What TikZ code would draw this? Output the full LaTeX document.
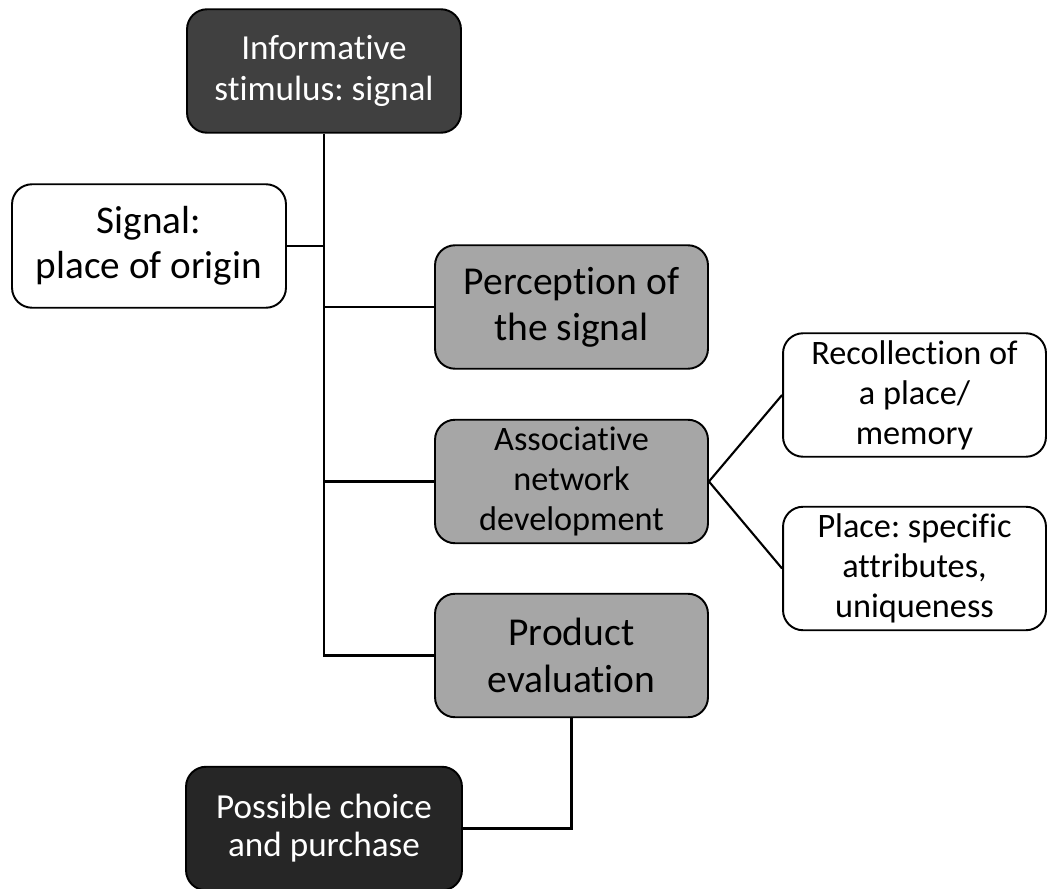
\documentclass[tikz,border=0pt]{standalone}
\usepackage{fontspec}
\setmainfont{Carlito}[Ligatures=NoCommon]
\usetikzlibrary{positioning}
\frenchspacing

\definecolor{topgrey}{HTML}{404040}
\definecolor{endgrey}{HTML}{262626}
\definecolor{midgrey}{HTML}{A6A6A6}

\tikzset{
  box/.style={draw=black, line width=1.1pt, rounded corners=0.4cm, align=center, inner sep=0pt,
    minimum width=5.48cm, minimum height=2.47cm},
  darkbox/.style={box, fill=topgrey, text=white},
  greybox/.style={box, fill=midgrey, minimum width=5.46cm},
  whitebox/.style={box, fill=white},
  sidebox/.style={whitebox, minimum width=5.26cm, font=\fontsize{19.5}{22.7}\selectfont},
  link/.style={line width=1.2pt}
}

\begin{document}
\begin{tikzpicture}[x=0.02cm, y=-0.02cm]

    \useasboundingbox (0,0) rectangle (1048,889);

    \node[darkbox, font=\fontsize{20}{23}\selectfont] (stimulus) at (324,71) {Informative\\stimulus: signal};
    \node[whitebox, font=\fontsize{22.3}{25.5}\selectfont] (origin) at (149,246) {Signal:\\place of origin};

    \node[greybox, font=\fontsize{22.5}{26}\selectfont] (perception) at (571.5,307) {Perception of\\the signal};
    \node[greybox, font=\fontsize{19.5}{22.7}\selectfont] (assoc) at (571.5,481.5) {Associative\\network\\development};
    \node[greybox, font=\fontsize{22.5}{26.5}\selectfont] (product) at (571.5,655.5) {Product\\evaluation};

    \node[sidebox] (recollect) at (914.5,395) {Recollection of\\a place/\\memory};
    \node[sidebox] (place) at (914.5,568.5) {Place: specific\\attributes,\\uniqueness};

    \node[darkbox, fill=endgrey, minimum width=5.52cm, font=\fontsize{20}{21.5}\selectfont] (choice) at (324,828.5) {Possible choice\\and purchase};

    \draw[link] (stimulus.south) -- (stimulus.south |- product.west) -- (product.west);
    \draw[link] (origin.east) -- (origin.east -| stimulus.south);
    \draw[link] (stimulus.south |- perception.west) -- (perception.west);
    \draw[link] (stimulus.south |- assoc.west) -- (assoc.west);

    \draw[link] (recollect.west) -- (assoc.east) -- (place.west);

    \draw[link] (product.south) -- (product.south |- choice.east) -- (choice.east);

\end{tikzpicture}
\end{document}
